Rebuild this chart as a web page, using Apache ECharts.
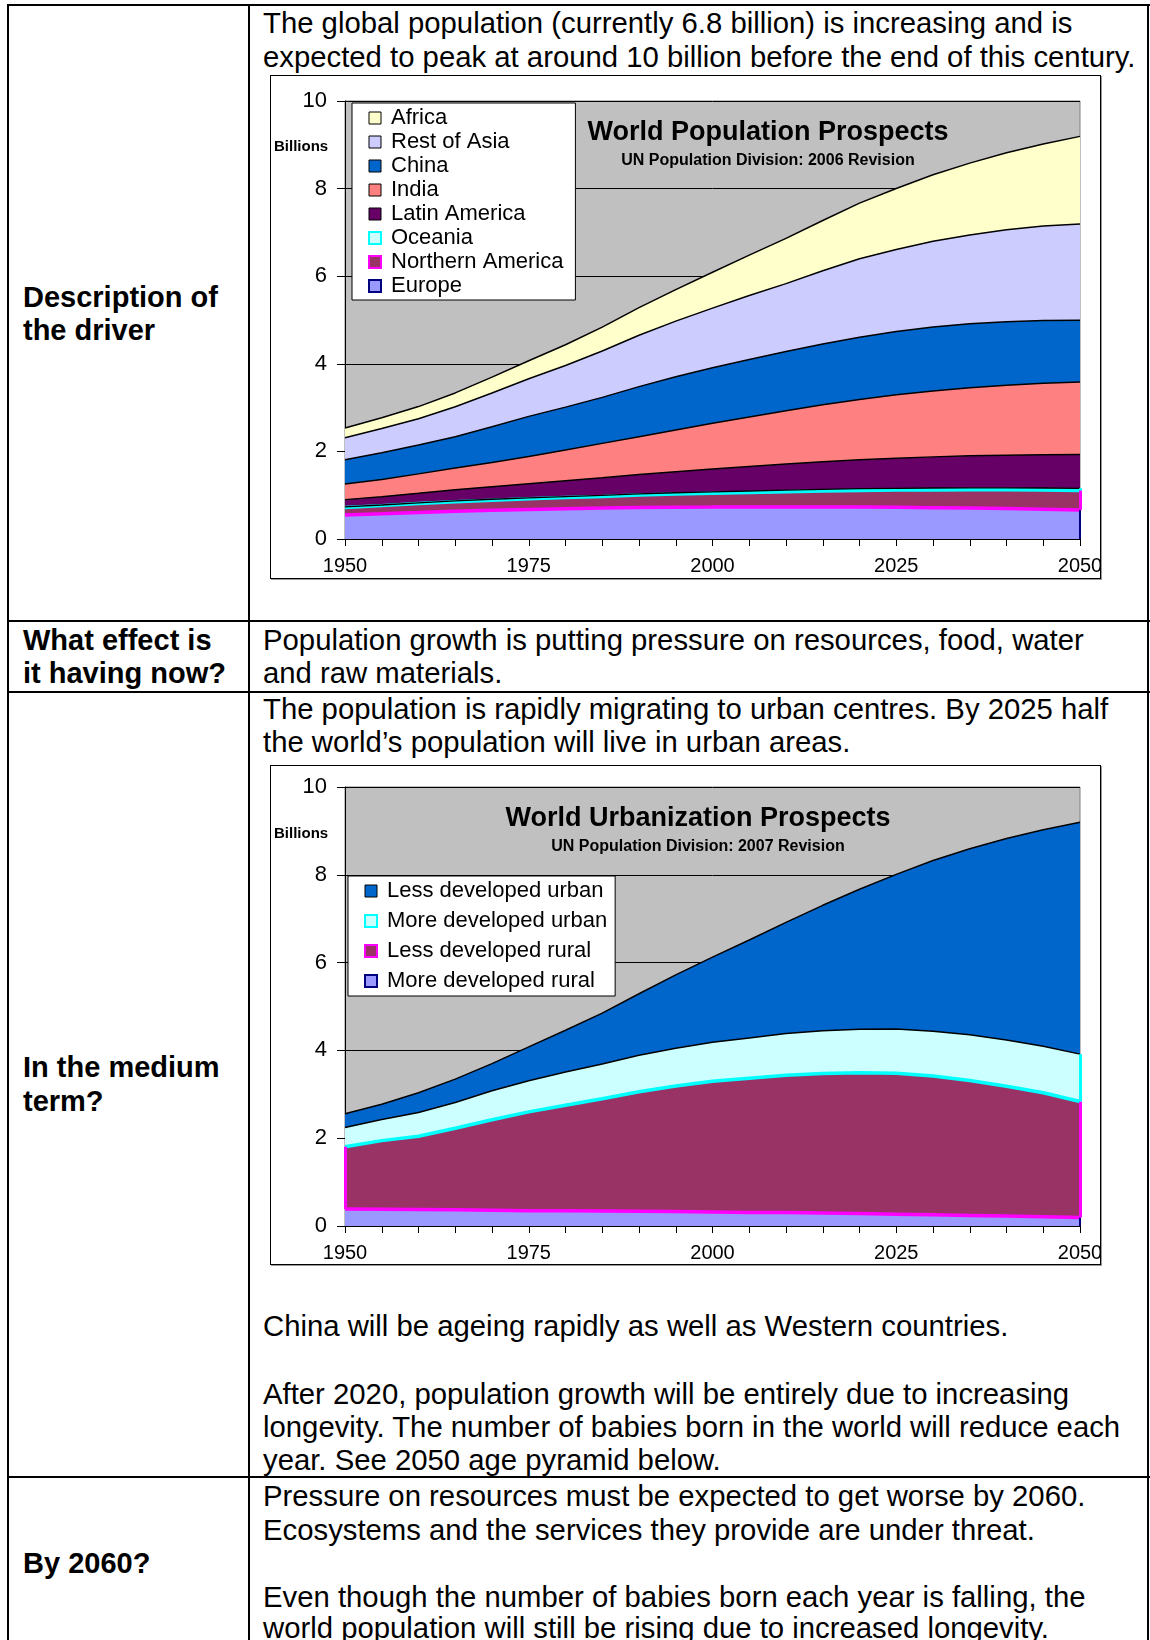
<!DOCTYPE html>
<html><head><meta charset="utf-8">
<script src="https://cdn.jsdelivr.net/npm/echarts@6/dist/echarts.min.js"></script>
<style>
body{margin:0;background:#fff;width:1150px;height:1640px;position:relative;overflow:hidden;font-family:"Liberation Sans",Arial,sans-serif;}
.t{position:absolute;font-size:29.3px;line-height:34px;white-space:nowrap;color:#000;}
.b{font-weight:bold;font-size:29px;}
.hl{position:absolute;background:#000;height:2px;}
.vl{position:absolute;background:#000;width:1.5px;}
.box{position:absolute;border:1px solid #000;box-shadow:1px 1px 0 #999;background:#fff;}
.chart{width:829px;}
</style></head>
<body>
<div class="hl" style="left:7px;top:4px;width:1143px"></div>
<div class="hl" style="left:7px;top:620px;width:1143px"></div>
<div class="hl" style="left:7px;top:691px;width:1143px"></div>
<div class="hl" style="left:7px;top:1476px;width:1143px"></div>
<div class="vl" style="left:7px;top:4px;height:1636px"></div>
<div class="vl" style="left:248px;top:4px;height:1636px"></div>
<div class="vl" style="left:1147px;top:4px;height:1636px"></div>

<div class="t b" style="left:23px;top:280px">Description of</div>
<div class="t b" style="left:23px;top:313px">the driver</div>
<div class="t b" style="left:23px;top:623px">What effect is</div>
<div class="t b" style="left:23px;top:656px">it having now?</div>
<div class="t b" style="left:23px;top:1050px">In the medium</div>
<div class="t b" style="left:23px;top:1084px">term?</div>
<div class="t b" style="left:23px;top:1546px">By 2060?</div>

<div class="t" style="left:263px;top:6px">The global population (currently 6.8 billion) is increasing and is</div>
<div class="t" style="left:263px;top:40px">expected to peak at around 10 billion before the end of this century.</div>
<div class="t" style="left:263px;top:623px">Population growth is putting pressure on resources, food, water</div>
<div class="t" style="left:263px;top:656px">and raw materials.</div>
<div class="t" style="left:263px;top:692px">The population is rapidly migrating to urban centres. By 2025 half</div>
<div class="t" style="left:263px;top:725px">the world’s population will live in urban areas.</div>
<div class="t" style="left:263px;top:1309px">China will be ageing rapidly as well as Western countries.</div>
<div class="t" style="left:263px;top:1377px">After 2020, population growth will be entirely due to increasing</div>
<div class="t" style="left:263px;top:1410px">longevity. The number of babies born in the world will reduce each</div>
<div class="t" style="left:263px;top:1443px">year. See 2050 age pyramid below.</div>
<div class="t" style="left:263px;top:1479px">Pressure on resources must be expected to get worse by 2060.</div>
<div class="t" style="left:263px;top:1513px">Ecosystems and the services they provide are under threat.</div>
<div class="t" style="left:263px;top:1580px">Even though the number of babies born each year is falling, the</div>
<div class="t" style="left:263px;top:1611px">world population will still be rising due to increased longevity.</div>

<div class="box" style="left:270px;top:75px;width:829px;height:502px"><div id="c1" class="chart" style="height:502px"></div></div>
<div class="box" style="left:270px;top:765px;width:829px;height:498px"><div id="c2" class="chart" style="height:498px"></div></div>

<script>
// ---- data ----
var years = ['1950','1955','1960','1965','1970','1975','1980','1985','1990','1995','2000','2005','2010','2015','2020','2025','2030','2035','2040','2045','2050'];
var yTicks = [0, 2, 4, 6, 8, 10];

// Chart 1: World Population Prospects (billions)
var europe          = [0.547,0.575,0.604,0.634,0.656,0.676,0.692,0.706,0.721,0.727,0.728,0.731,0.732,0.732,0.729,0.723,0.716,0.707,0.695,0.680,0.664];
var northernAmerica = [0.172,0.187,0.204,0.219,0.231,0.242,0.254,0.267,0.283,0.300,0.316,0.332,0.348,0.364,0.379,0.393,0.405,0.417,0.427,0.436,0.445];
var oceania         = [0.013,0.014,0.016,0.018,0.020,0.022,0.023,0.025,0.027,0.029,0.031,0.033,0.036,0.038,0.040,0.042,0.043,0.045,0.046,0.048,0.049];
var latinAmerica    = [0.167,0.191,0.218,0.251,0.285,0.322,0.361,0.401,0.441,0.480,0.521,0.557,0.594,0.628,0.660,0.688,0.711,0.731,0.746,0.759,0.769];
var india           = [0.357,0.391,0.445,0.497,0.554,0.622,0.700,0.784,0.862,0.953,1.046,1.134,1.220,1.302,1.379,1.447,1.506,1.554,1.597,1.632,1.658];
var china           = [0.555,0.609,0.658,0.715,0.818,0.916,0.981,1.051,1.145,1.214,1.270,1.313,1.352,1.389,1.421,1.446,1.458,1.458,1.448,1.431,1.409];
var restOfAsia      = [0.499,0.556,0.601,0.687,0.771,0.859,0.951,1.059,1.174,1.271,1.360,1.458,1.549,1.670,1.790,1.870,1.960,2.030,2.100,2.160,2.200];
var africa          = [0.224,0.247,0.277,0.314,0.360,0.410,0.472,0.545,0.630,0.720,0.819,0.922,1.032,1.149,1.271,1.394,1.518,1.640,1.758,1.870,1.998];

// Chart 2: World Urbanization Prospects (billions)
var moreDevRural  = [0.385,0.380,0.375,0.370,0.360,0.350,0.345,0.340,0.335,0.330,0.320,0.310,0.305,0.295,0.285,0.270,0.255,0.240,0.225,0.210,0.195];
var lessDevRural  = [1.420,1.565,1.670,1.855,2.060,2.250,2.405,2.560,2.725,2.860,2.975,3.055,3.130,3.180,3.205,3.210,3.160,3.075,2.960,2.825,2.640];
var moreDevUrban  = [0.44,0.48,0.54,0.59,0.66,0.71,0.76,0.79,0.83,0.86,0.89,0.92,0.95,0.97,0.99,1.01,1.02,1.04,1.05,1.06,1.08];
var lessDevUrban  = [0.31,0.35,0.45,0.53,0.62,0.77,0.95,1.16,1.40,1.67,1.94,2.23,2.53,2.86,3.19,3.52,3.89,4.24,4.59,4.93,5.28];

var FONT = '"Liberation Sans", Arial, sans-serif';

// sum of the first n stacked arrays at index i (used for the Excel-style polygon side borders)
function cum(list, n, i) { var s = 0; for (var k = 0; k < n; k++) s += list[k][i]; return s; }

function edgeLines(list, n, indices) {
  var out = [];
  indices.forEach(function (i) {
    out.push([{ coord: [years[i], cum(list, n, i)] }, { coord: [years[i], cum(list, n + 1, i)] }]);
  });
  return out;
}

function areaSeries(name, data, fill, lineColor, lineWidth, edge) {
  var s = {
    name: name, type: 'line', stack: 'total', data: data,
    symbol: 'none', showSymbol: false, smooth: false,
    areaStyle: { color: fill, opacity: 1 },
    lineStyle: { color: lineColor, width: lineWidth },
    itemStyle: { color: fill },
    emphasis: { disabled: true }, silent: true
  };
  if (edge) {
    s.markLine = { silent: true, symbol: ['none', 'none'], label: { show: false },
      lineStyle: { color: edge.color, width: edge.width, type: 'solid' },
      emphasis: { disabled: true }, animation: false, data: edge.data };
  }
  return s;
}

function baseOption(cfg) {
  return {
    animation: false,
    textStyle: { fontFamily: FONT },
    grid: { left: 74, right: 20, top: cfg.gridTop, bottom: cfg.gridBottom, show: true,
            outerBoundsMode: 'none', containLabel: false,
            backgroundColor: '#C0C0C0', borderColor: '#808080', borderWidth: 1 },
    xAxis: {
      type: 'category', data: years, boundaryGap: false,
      axisLine: { lineStyle: { color: '#000', width: 1 } },
      axisTick: { show: true, interval: 0, length: 7, lineStyle: { color: '#000' } },
      axisLabel: { interval: 4, fontSize: 20, color: '#000', margin: 17, fontFamily: FONT, hideOverlap: false },
      splitLine: { show: false }
    },
    yAxis: {
      type: 'value', min: yTicks[0], max: yTicks[yTicks.length - 1], interval: yTicks[1] - yTicks[0],
      axisLine: { show: true, lineStyle: { color: '#000', width: 1 } },
      axisTick: { show: true, length: 8, lineStyle: { color: '#000' } },
      axisLabel: { fontSize: 22, color: '#000', margin: 18, fontFamily: FONT },
      splitLine: { show: true, lineStyle: { color: '#000', width: 1 } }
    },
    legend: {
      orient: 'vertical', left: cfg.legendLeft, top: cfg.legendTop,
      backgroundColor: '#fff', borderColor: '#000', borderWidth: 1,
      padding: cfg.legendPadding, itemGap: 0, itemWidth: 12, itemHeight: 12, icon: 'rect',
      textStyle: { fontSize: cfg.legendFont, color: '#000', fontFamily: FONT, lineHeight: cfg.legendLine, padding: [0, 0, 0, 5] },
      selectedMode: false,
      data: cfg.legendData
    },
    graphic: [
      { type: 'text', x: cfg.titleX, y: cfg.titleY, z: 100,
        style: { text: cfg.title, textAlign: 'center', textVerticalAlign: 'middle', verticalAlign: 'middle',
                 fontSize: 27, fontWeight: 'bold', fontFamily: FONT, fill: '#000' } },
      { type: 'text', x: cfg.titleX, y: cfg.subY, z: 100,
        style: { text: cfg.subtitle, textAlign: 'center', textVerticalAlign: 'middle', verticalAlign: 'middle',
                 fontSize: 16, fontWeight: 'bold', fontFamily: FONT, fill: '#000' } },
      { type: 'text', x: 3, y: cfg.billionsY, z: 100,
        style: { text: 'Billions', textAlign: 'left', textVerticalAlign: 'middle', verticalAlign: 'middle',
                 fontSize: 15, fontWeight: 'bold', fontFamily: FONT, fill: '#000' } }
    ],
    series: cfg.series
  };
}

function leg(name, fill, border, bw) {
  return { name: name, itemStyle: { color: fill, borderColor: border, borderWidth: bw } };
}

var stack1 = [europe, northernAmerica, oceania];
var last = years.length - 1;

var c1 = echarts.init(document.getElementById('c1'), null, { renderer: 'canvas' });
c1.setOption(baseOption({
  gridTop: 25, gridBottom: 39,
  legendLeft: 81, legendTop: 27, legendPadding: [3, 12, 2, 16], legendFont: 22, legendLine: 24,
  titleX: 497, titleY: 57, subY: 85, billionsY: 71,
  title: 'World Population Prospects', subtitle: 'UN Population Division: 2006 Revision',
  legendData: [
    leg('Africa', '#FFFFCC', '#000', 1),
    leg('Rest of Asia', '#CCCCFF', '#000', 1),
    leg('China', '#0066CC', '#000', 1),
    leg('India', '#FF8080', '#000', 1),
    leg('Latin America', '#660066', '#000', 1),
    leg('Oceania', '#CCFFFF', '#00FFFF', 2),
    leg('Northern America', '#993366', '#FF00FF', 2),
    leg('Europe', '#9999FF', '#000080', 2)
  ],
  series: [
    areaSeries('Europe', europe, '#9999FF', '#FF00FF', 3.5, { color: '#000080', width: 2, data: edgeLines(stack1, 0, [last]) }),
    areaSeries('Northern America', northernAmerica, '#993366', '#00FFFF', 3.5, { color: '#FF00FF', width: 3, data: edgeLines(stack1, 1, [last]) }),
    areaSeries('Oceania', oceania, '#CCFFFF', '#000', 1.3, { color: '#00FFFF', width: 3, data: edgeLines(stack1, 2, [last]) }),
    areaSeries('Latin America', latinAmerica, '#660066', '#000', 1.5),
    areaSeries('India', india, '#FF8080', '#000', 1.5),
    areaSeries('China', china, '#0066CC', '#000', 1.5),
    areaSeries('Rest of Asia', restOfAsia, '#CCCCFF', '#000', 1.5),
    areaSeries('Africa', africa, '#FFFFCC', '#000', 1.5)
  ]
}));

var stack2 = [moreDevRural, lessDevRural, moreDevUrban];

var c2 = echarts.init(document.getElementById('c2'), null, { renderer: 'canvas' });
c2.setOption(baseOption({
  gridTop: 21, gridBottom: 38,
  legendLeft: 77, legendTop: 110, legendPadding: [0, 8, 0, 16], legendFont: 22, legendLine: 30,
  titleX: 427, titleY: 53, subY: 81, billionsY: 68,
  title: 'World Urbanization Prospects', subtitle: 'UN Population Division: 2007 Revision',
  legendData: [
    leg('Less developed urban', '#0066CC', '#000', 1),
    leg('More developed urban', '#CCFFFF', '#00FFFF', 2),
    leg('Less developed rural', '#993366', '#FF00FF', 2),
    leg('More developed rural', '#9999FF', '#000080', 2)
  ],
  series: [
    areaSeries('More developed rural', moreDevRural, '#9999FF', '#FF00FF', 3.5, { color: '#000080', width: 2, data: edgeLines(stack2, 0, [last]) }),
    areaSeries('Less developed rural', lessDevRural, '#993366', '#00FFFF', 3.5, { color: '#FF00FF', width: 3, data: edgeLines(stack2, 1, [0, last]) }),
    areaSeries('More developed urban', moreDevUrban, '#CCFFFF', '#000', 1.5, { color: '#00FFFF', width: 3, data: edgeLines(stack2, 2, [last]) }),
    areaSeries('Less developed urban', lessDevUrban, '#0066CC', '#000', 1.5)
  ]
}));
</script>
</body></html>
